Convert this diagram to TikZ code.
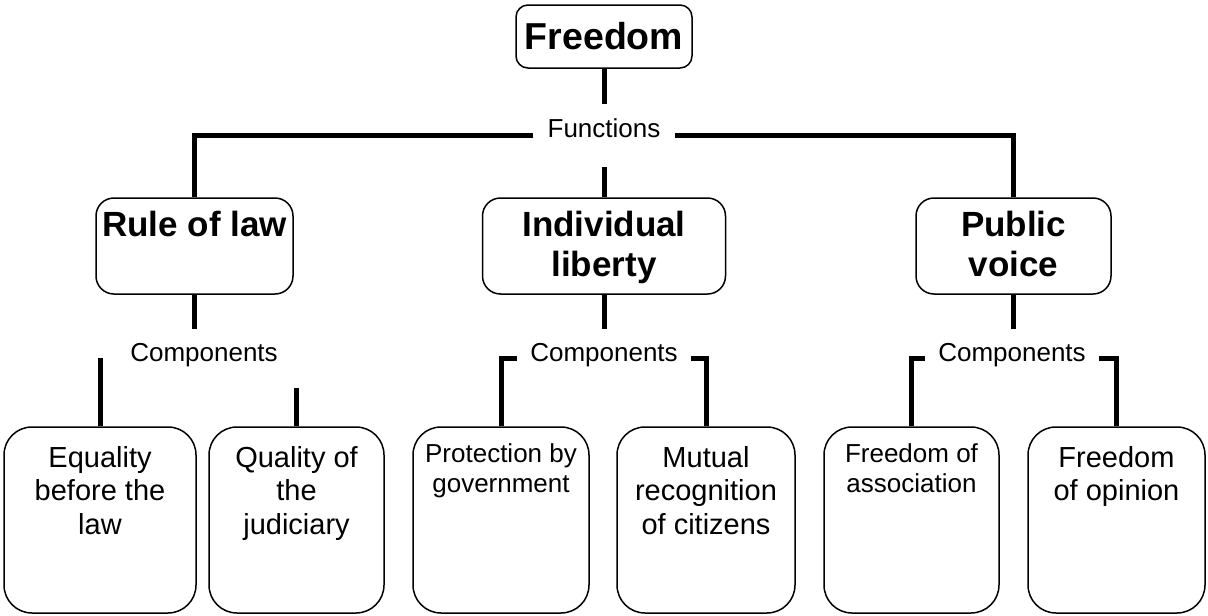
\documentclass[tikz,border=0pt]{standalone}
\usepackage{fontspec}
\setmainfont{Liberation Sans}
\usetikzlibrary{positioning}

\tikzset{
  topbox/.style={draw, line width=1.5pt, rounded corners=12pt, minimum width=176pt, minimum height=63pt, inner sep=0pt, font=\fontsize{37.5}{40}\selectfont\bfseries},
  midbox/.style={draw, line width=1.5pt, rounded corners=18pt, minimum height=96pt, inner sep=0pt},
  lowbox/.style={draw, line width=1.5pt, rounded corners=28pt, minimum height=186pt, inner sep=0pt},
  midtxt/.style={anchor=base, align=center, inner sep=0pt, font=\fontsize{35}{40}\selectfont\bfseries},
  bigtxt/.style={anchor=base, align=center, inner sep=0pt, font=\fontsize{29}{33.5}\selectfont},
  smalltxt/.style={anchor=base, align=center, inner sep=0pt, font=\fontsize{26}{30}\selectfont},
  lbl/.style={anchor=base, inner xsep=13pt, inner ysep=14pt, text depth=13pt, font=\fontsize{26}{30}\selectfont},
  conn/.style={line width=5pt}
}

\begin{document}
\begin{tikzpicture}[x=1pt,y=-1pt]
    \path[use as bounding box, fill=white] (0,0) rectangle (1208,616);

    \node[topbox] (free) at (604,36.5) {Freedom};
    \node[lbl, inner xsep=14pt, text depth=16pt] (func) at (604,137) {Functions};

%    functions (base anchor = last line)
    \node[midbox, minimum width=197pt] (rule) at (194.5,246) {};
    \node[midbox, minimum width=243pt] (indiv) at (604,246) {};
    \node[midbox, minimum width=195pt] (voice) at (1013.5,246) {};
    \node[midtxt] (rulet) at ([yshift=-39pt]rule.north) {Rule of law};
    \node[midtxt] (indivt) at ([yshift=-79pt]indiv.north) {Individual\\liberty};
    \node[midtxt] (voicet) at ([yshift=-79pt]voice.north) {Public\\voice};

    \node[lbl] (comp1) at (204,361) {Components};
    \node[lbl] (comp2) at (604,361) {Components};
    \node[lbl] (comp3) at (1012,361) {Components};

%    components
    \node[lowbox, minimum width=192pt] (eq) at (100,520) {};
    \node[lowbox, minimum width=175pt] (qual) at (296.5,520) {};
    \node[lowbox, minimum width=176pt] (prot) at (501,520) {};
    \node[lowbox, minimum width=178pt] (mut) at (706,520) {};
    \node[lowbox, minimum width=175pt] (assoc) at (911.5,520) {};
    \node[lowbox, minimum width=177pt] (opin) at (1116.5,520) {};
    \node[bigtxt] (eqt) at ([yshift=-108pt]eq.north) {Equality\\before the\\law};
    \node[bigtxt] (qualt) at ([yshift=-108pt]qual.north) {Quality of\\the\\judiciary};
    \node[smalltxt] (prott) at ([yshift=-66pt]prot.north) {Protection by\\government};
    \node[bigtxt] (mutt) at ([yshift=-108pt]mut.north) {Mutual\\recognition\\of citizens};
    \node[smalltxt] (assoct) at ([yshift=-66pt]assoc.north) {Freedom of\\association};
    \node[bigtxt] (opint) at ([yshift=-74.5pt]opin.north) {Freedom\\of opinion};

    \draw[conn] (free) -- (func);
    \draw[conn] (func.west) -| (rule.north);
    \draw[conn] (func.east) -| (voice.north);
    \draw[conn] (func) -- (indiv);

    \draw[conn] (rule.south) -- (rule.south |- comp1.north);
    \draw[conn] (indiv) -- (comp2);
    \draw[conn] (voice.south) -- (voice.south |- comp3.north);

    \draw[conn] (eq.north) -- (eq.north |- comp1.east);
    \draw[conn] (qual.north) -- (qual.north |- comp1.south);
    \draw[conn] (comp2.west) -| (prot.north);
    \draw[conn] (comp2.east) -| (mut.north);
    \draw[conn] (comp3.west) -| (assoc.north);
    \draw[conn] (comp3.east) -| (opin.north);

\end{tikzpicture}
\end{document}
